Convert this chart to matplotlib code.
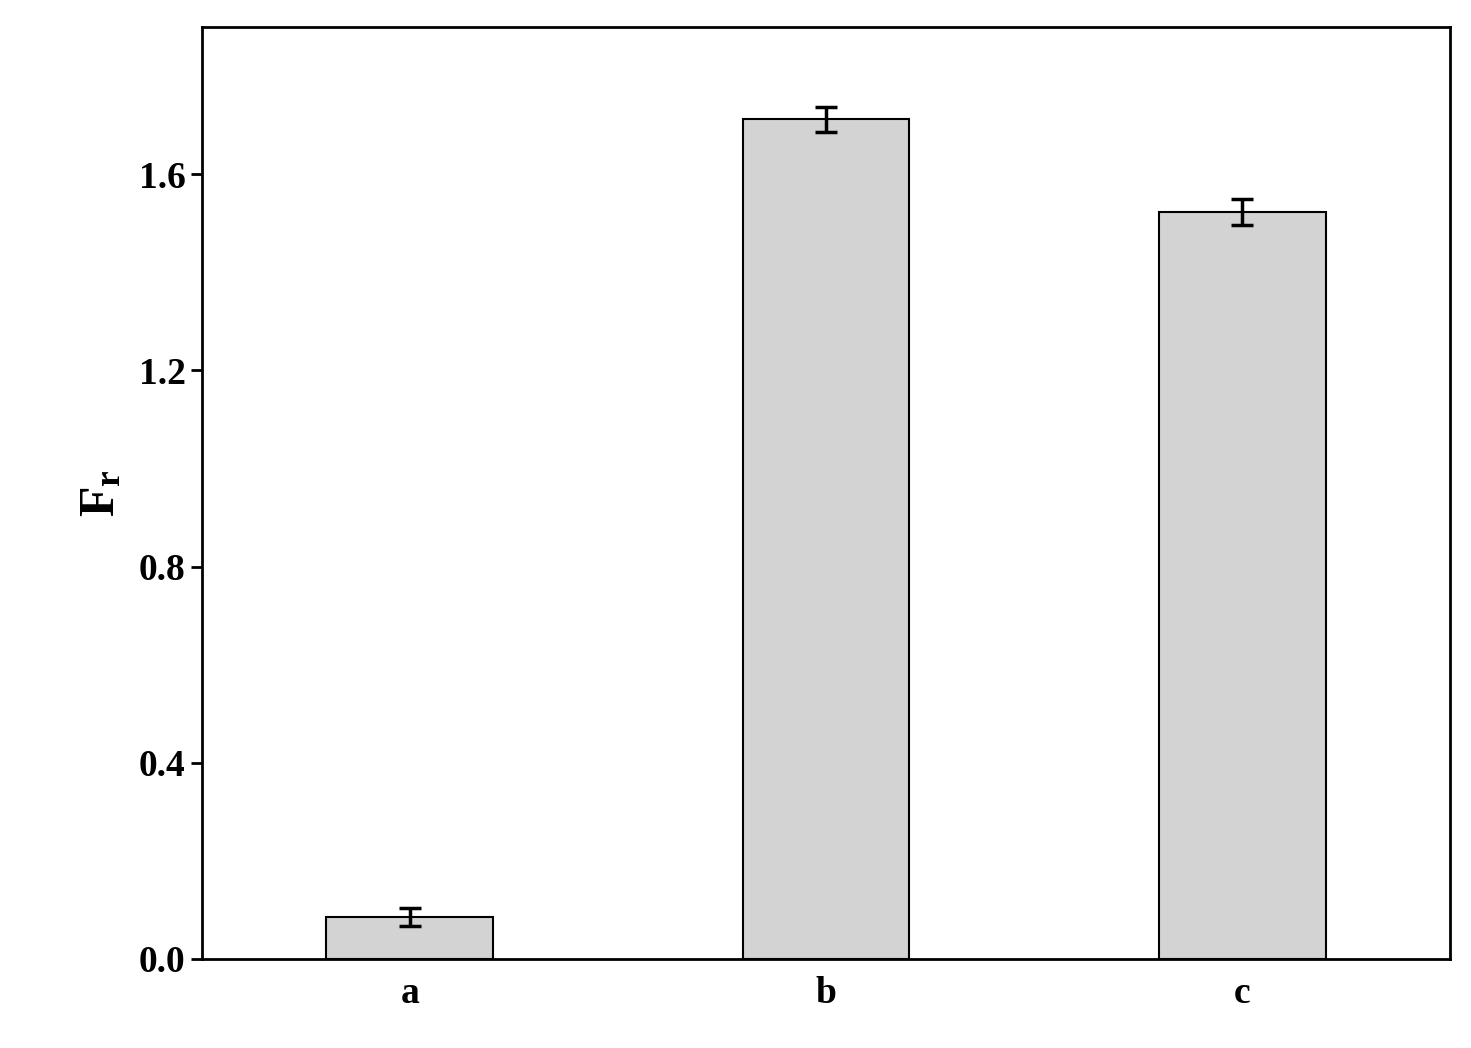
import numpy as np
import matplotlib
matplotlib.use('Agg')
from matplotlib import pyplot as plt

labels = ['a', 'b', 'c']
values = [0.086, 1.712, 1.523]
errors = [0.018, 0.026, 0.026]
yticks = [0.0, 0.4, 0.8, 1.2, 1.6]

plt.rcParams['font.family'] = 'Liberation Serif'
plt.rcParams['font.weight'] = 'bold'
plt.rcParams['mathtext.fontset'] = 'custom'
plt.rcParams['mathtext.rm'] = 'Liberation Serif:bold'
plt.rcParams['mathtext.bf'] = 'Liberation Serif:bold'

fig = plt.figure(figsize=(14.71, 10.48), dpi=100)
ax = fig.add_axes([0.137, 0.085, 0.849, 0.889])
x = np.arange(len(labels))
ax.bar(x, values, width=0.4, color='#d3d3d3', edgecolor='black', linewidth=1.5)
ax.errorbar(x, values, yerr=errors, fmt='none', ecolor='black', elinewidth=2.5, capsize=8, capthick=2.5)

ax.set_xlim(-0.5, 2.5)
ax.set_ylim(0, 1.9)
ax.set_xticks(x)
ax.set_xticklabels(labels)
ax.set_yticks(yticks)
ax.set_yticklabels(['%.1f' % t for t in yticks])
ax.tick_params(axis='x', length=0, labelsize=27, pad=12)
ax.tick_params(axis='y', direction='out', length=8, width=2, labelsize=27)
for s in ax.spines.values():
    s.set_linewidth(2)
ax.set_ylabel(r'$\mathbf{F_r}$', fontsize=36, labelpad=10)

fig.savefig('out.png', dpi=100)
